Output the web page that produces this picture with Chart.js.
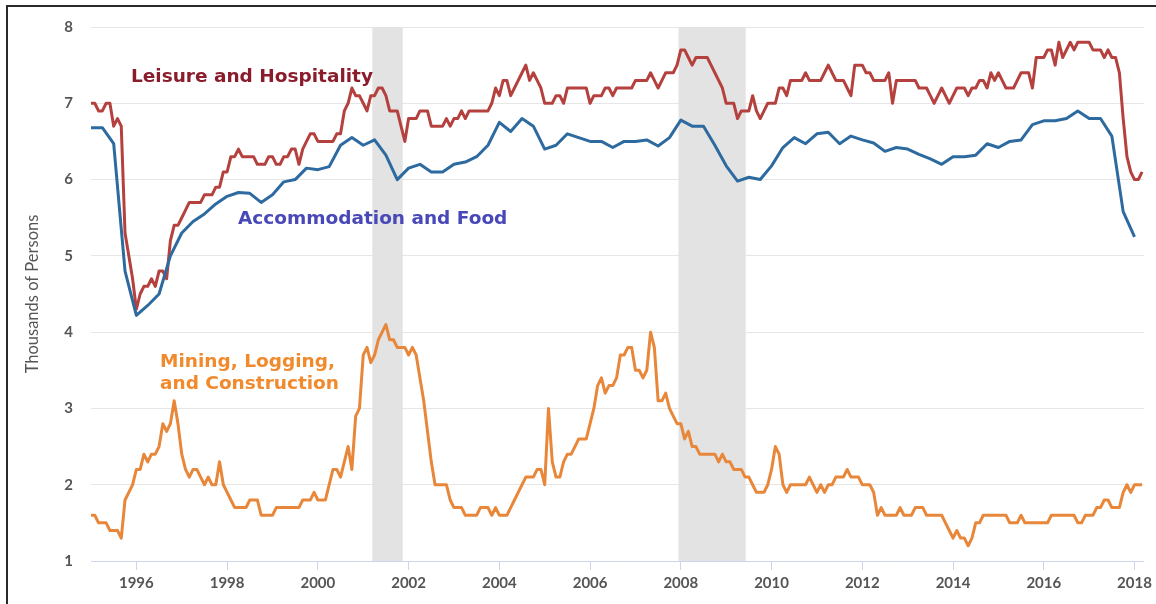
<!DOCTYPE html>
<html>
<head>
<meta charset="utf-8">
<script src="https://cdn.jsdelivr.net/npm/chart.js@4.4.1/dist/chart.umd.min.js"></script>
<style>
  html, body { margin: 0; padding: 0; background: #fff; }
  #wrap { width: 1156px; height: 604px; }
</style>
</head>
<body>
<div id="wrap"><canvas id="grafico" width="1156" height="604"></canvas></div>
<script>
// serie mensual desde enero 1995 (ocio y mineria), trimestral para alojamiento
const anioInicio = 1995;
const ticksAnios = [1996, 1998, 2000, 2002, 2004, 2006, 2008, 2010, 2012, 2014, 2016, 2018];
const ticksValores = [1, 2, 3, 4, 5, 6, 7, 8];

const ocio = [
  7.0, 7.0, 6.9, 6.9, 7.0, 7.0, 6.7, 6.8, 6.7, 5.3, 5.0, 4.7,
  4.3, 4.5, 4.6, 4.6, 4.7, 4.6, 4.8, 4.8, 4.7, 5.2, 5.4, 5.4,
  5.5, 5.6, 5.7, 5.7, 5.7, 5.7, 5.8, 5.8, 5.8, 5.9, 5.9, 6.1,
  6.1, 6.3, 6.3, 6.4, 6.3, 6.3, 6.3, 6.3, 6.2, 6.2, 6.2, 6.3,
  6.3, 6.2, 6.2, 6.3, 6.3, 6.4, 6.4, 6.2, 6.4, 6.5, 6.6, 6.6,
  6.5, 6.5, 6.5, 6.5, 6.5, 6.6, 6.6, 6.9, 7.0, 7.2, 7.1, 7.1,
  7.0, 6.9, 7.1, 7.1, 7.2, 7.2, 7.1, 6.9, 6.9, 6.9, 6.7, 6.5,
  6.8, 6.8, 6.8, 6.9, 6.9, 6.9, 6.7, 6.7, 6.7, 6.7, 6.8, 6.7,
  6.8, 6.8, 6.9, 6.8, 6.9, 6.9, 6.9, 6.9, 6.9, 6.9, 7.0, 7.2,
  7.1, 7.3, 7.3, 7.1, 7.2, 7.3, 7.4, 7.5, 7.3, 7.4, 7.3, 7.2,
  7.0, 7.0, 7.0, 7.1, 7.1, 7.0, 7.2, 7.2, 7.2, 7.2, 7.2, 7.2,
  7.0, 7.1, 7.1, 7.1, 7.2, 7.2, 7.1, 7.2, 7.2, 7.2, 7.2, 7.2,
  7.3, 7.3, 7.3, 7.3, 7.4, 7.3, 7.2, 7.3, 7.4, 7.4, 7.4, 7.5,
  7.7, 7.7, 7.6, 7.5, 7.6, 7.6, 7.6, 7.6, 7.5, 7.4, 7.3, 7.2,
  7.0, 7.0, 7.0, 6.8, 6.9, 6.9, 6.9, 7.1, 6.9, 6.8, 6.9, 7.0,
  7.0, 7.0, 7.2, 7.2, 7.1, 7.3, 7.3, 7.3, 7.3, 7.4, 7.3, 7.3,
  7.3, 7.3, 7.4, 7.5, 7.4, 7.3, 7.3, 7.3, 7.2, 7.1, 7.5, 7.5,
  7.5, 7.4, 7.4, 7.3, 7.3, 7.3, 7.3, 7.4, 7.0, 7.3, 7.3, 7.3,
  7.3, 7.3, 7.3, 7.2, 7.2, 7.2, 7.1, 7.0, 7.1, 7.2, 7.1, 7.0,
  7.1, 7.2, 7.2, 7.2, 7.1, 7.2, 7.2, 7.3, 7.3, 7.2, 7.4, 7.3,
  7.4, 7.3, 7.2, 7.2, 7.2, 7.3, 7.4, 7.4, 7.4, 7.2, 7.6, 7.6,
  7.6, 7.7, 7.7, 7.5, 7.8, 7.6, 7.7, 7.8, 7.7, 7.8, 7.8, 7.8,
  7.8, 7.7, 7.7, 7.7, 7.6, 7.7, 7.6, 7.6, 7.4, 6.8, 6.3, 6.1,
  6.0, 6.0, 6.1
];

const mineria = [
  1.6, 1.6, 1.5, 1.5, 1.5, 1.4, 1.4, 1.4, 1.3, 1.8, 1.9, 2.0,
  2.2, 2.2, 2.4, 2.3, 2.4, 2.4, 2.5, 2.8, 2.7, 2.8, 3.1, 2.8,
  2.4, 2.2, 2.1, 2.2, 2.2, 2.1, 2.0, 2.1, 2.0, 2.0, 2.3, 2.0,
  1.9, 1.8, 1.7, 1.7, 1.7, 1.7, 1.8, 1.8, 1.8, 1.6, 1.6, 1.6,
  1.6, 1.7, 1.7, 1.7, 1.7, 1.7, 1.7, 1.7, 1.8, 1.8, 1.8, 1.9,
  1.8, 1.8, 1.8, 2.0, 2.2, 2.2, 2.1, 2.3, 2.5, 2.2, 2.9, 3.0,
  3.7, 3.8, 3.6, 3.7, 3.9, 4.0, 4.1, 3.9, 3.9, 3.8, 3.8, 3.8,
  3.7, 3.8, 3.7, 3.4, 3.1, 2.7, 2.3, 2.0, 2.0, 2.0, 2.0, 1.8,
  1.7, 1.7, 1.7, 1.6, 1.6, 1.6, 1.6, 1.7, 1.7, 1.7, 1.6, 1.7,
  1.6, 1.6, 1.6, 1.7, 1.8, 1.9, 2.0, 2.1, 2.1, 2.1, 2.2, 2.2,
  2.0, 3.0, 2.3, 2.1, 2.1, 2.3, 2.4, 2.4, 2.5, 2.6, 2.6, 2.6,
  2.8, 3.0, 3.3, 3.4, 3.2, 3.3, 3.3, 3.4, 3.7, 3.7, 3.8, 3.8,
  3.5, 3.5, 3.4, 3.5, 4.0, 3.8, 3.1, 3.1, 3.2, 3.0, 2.9, 2.8,
  2.8, 2.6, 2.7, 2.5, 2.5, 2.4, 2.4, 2.4, 2.4, 2.4, 2.3, 2.4,
  2.3, 2.3, 2.2, 2.2, 2.2, 2.1, 2.1, 2.0, 1.9, 1.9, 1.9, 2.0,
  2.2, 2.5, 2.4, 2.0, 1.9, 2.0, 2.0, 2.0, 2.0, 2.0, 2.1, 2.0,
  1.9, 2.0, 1.9, 2.0, 2.0, 2.1, 2.1, 2.1, 2.2, 2.1, 2.1, 2.1,
  2.0, 2.0, 2.0, 1.9, 1.6, 1.7, 1.6, 1.6, 1.6, 1.6, 1.7, 1.6,
  1.6, 1.6, 1.7, 1.7, 1.7, 1.6, 1.6, 1.6, 1.6, 1.6, 1.5, 1.4,
  1.3, 1.4, 1.3, 1.3, 1.2, 1.3, 1.5, 1.5, 1.6, 1.6, 1.6, 1.6,
  1.6, 1.6, 1.6, 1.5, 1.5, 1.5, 1.6, 1.5, 1.5, 1.5, 1.5, 1.5,
  1.5, 1.5, 1.6, 1.6, 1.6, 1.6, 1.6, 1.6, 1.6, 1.5, 1.5, 1.6,
  1.6, 1.6, 1.7, 1.7, 1.8, 1.8, 1.7, 1.7, 1.7, 1.9, 2.0, 1.9,
  2.0, 2.0, 2.0
];

// trimestral
const alojamiento = [
  6.68, 6.68, 6.47, 4.80,
  4.22, 4.35, 4.50, 5.00,
  5.30, 5.45, 5.55, 5.68,
  5.78, 5.83, 5.82, 5.70,
  5.80, 5.97, 6.00, 6.15,
  6.13, 6.17, 6.45, 6.55,
  6.45, 6.52, 6.32, 6.00,
  6.15, 6.20, 6.10, 6.10,
  6.20, 6.23, 6.30, 6.45,
  6.75, 6.63, 6.80, 6.70,
  6.40, 6.45, 6.60, 6.55,
  6.50, 6.50, 6.42, 6.50,
  6.50, 6.52, 6.44, 6.55,
  6.78, 6.70, 6.70, 6.45,
  6.18, 5.98, 6.03, 6.00,
  6.18, 6.42, 6.55, 6.47,
  6.60, 6.62, 6.47, 6.57,
  6.52, 6.48, 6.37, 6.42,
  6.40, 6.33, 6.27, 6.20,
  6.30, 6.30, 6.32, 6.47,
  6.42, 6.50, 6.52, 6.72,
  6.77, 6.77, 6.80, 6.90,
  6.80, 6.80, 6.57, 5.58,
  5.25
];

const recesionInicio = [2001.2, 2007.95];
const recesionFin = [2001.87, 2009.43];

function mensual(lista) {
  return lista.map((v, i) => ({ x: anioInicio + i / 12, y: v }));
}
function trimestral(lista) {
  return lista.map((v, i) => ({ x: anioInicio + i / 4, y: v }));
}

const fondo = {
  id: 'fondo',
  beforeDraw(chart) {
    const ctx = chart.ctx;
    ctx.save();
    ctx.fillStyle = '#fff';
    ctx.fillRect(0, 0, chart.width, chart.height);
    ctx.restore();
  },
  afterDraw(chart) {
    const ctx = chart.ctx;
    ctx.save();
    ctx.strokeStyle = '#2a2a2a';
    ctx.lineWidth = 2;
    ctx.beginPath();
    ctx.moveTo(7, chart.height);
    ctx.lineTo(7, 6);
    ctx.lineTo(chart.width, 6);
    ctx.stroke();
    ctx.restore();
  }
};

const sombras = {
  id: 'sombras',
  beforeDatasetsDraw(chart) {
    const { ctx, chartArea, scales: { x } } = chart;
    ctx.save();
    ctx.fillStyle = '#e3e3e3';
    for (let i = 0; i < recesionInicio.length; i++) {
      const x0 = x.getPixelForValue(recesionInicio[i]);
      const x1 = x.getPixelForValue(recesionFin[i]);
      ctx.fillRect(x0, chartArea.top, x1 - x0, chartArea.bottom - chartArea.top);
    }
    ctx.restore();
  }
};

const etiquetas = {
  id: 'etiquetas',
  afterDatasetsDraw(chart) {
    const ctx = chart.ctx;
    ctx.save();
    ctx.font = 'bold 18.5px "DejaVu Sans"';
    ctx.textBaseline = 'alphabetic';
    ctx.fillStyle = '#8b1c2c';
    ctx.fillText('Leisure and Hospitality', 131, 82);
    ctx.fillStyle = '#4848b8';
    ctx.fillText('Accommodation and Food', 238, 224);
    ctx.fillStyle = '#f08a2c';
    ctx.fillText('Mining, Logging,', 160, 367);
    ctx.fillText('and Construction', 160, 389);
    ctx.restore();
  }
};

const fuenteEje = { family: 'Lato', size: 15, weight: 'bold' };

new Chart(document.getElementById('grafico'), {
  type: 'line',
  data: {
    datasets: [
      {
        label: 'Mining, Logging, and Construction',
        data: mensual(mineria),
        borderColor: '#e8873a',
        borderWidth: 3,
        pointRadius: 0,
        tension: 0,
        borderJoinStyle: 'round'
      },
      {
        label: 'Accommodation and Food',
        data: trimestral(alojamiento),
        borderColor: '#2d6a9f',
        borderWidth: 3,
        pointRadius: 0,
        tension: 0,
        borderJoinStyle: 'round'
      },
      {
        label: 'Leisure and Hospitality',
        data: mensual(ocio),
        borderColor: '#b5413e',
        borderWidth: 3,
        pointRadius: 0,
        tension: 0,
        borderJoinStyle: 'round'
      }
    ]
  },
  options: {
    responsive: false,
    animation: false,
    layout: { padding: { top: 26, right: 9, bottom: 0, left: 0 } },
    plugins: {
      legend: { display: false },
      tooltip: { enabled: false }
    },
    scales: {
      x: {
        type: 'linear',
        min: 1995,
        max: 2018.2,
        afterBuildTicks: s => { s.ticks = ticksAnios.map(v => ({ value: v })); },
        afterFit: s => { s.height = 43; },
        grid: { drawOnChartArea: false, drawTicks: true, tickLength: 9, color: '#ccd6eb', tickColor: '#ccd6eb' },
        border: { display: true, color: '#ccd6eb', width: 1 },
        ticks: { color: '#555', font: fuenteEje, padding: 4, maxRotation: 0, autoSkip: false, callback: v => String(v) }
      },
      y: {
        min: 1,
        max: 8,
        afterBuildTicks: s => { s.ticks = ticksValores.map(v => ({ value: v })); },
        afterFit: s => { s.width = 91; },
        grid: { color: '#e6e6e6', drawTicks: false },
        border: { display: false },
        ticks: { color: '#555', font: fuenteEje, padding: 18 },
        title: {
          display: true,
          text: 'Thousands of Persons',
          color: '#555',
          font: { family: 'Lato', size: 16.5 },
          padding: { top: 23, bottom: 0 }
        }
      }
    }
  },
  plugins: [fondo, sombras, etiquetas]
});
</script>
</body>
</html>
